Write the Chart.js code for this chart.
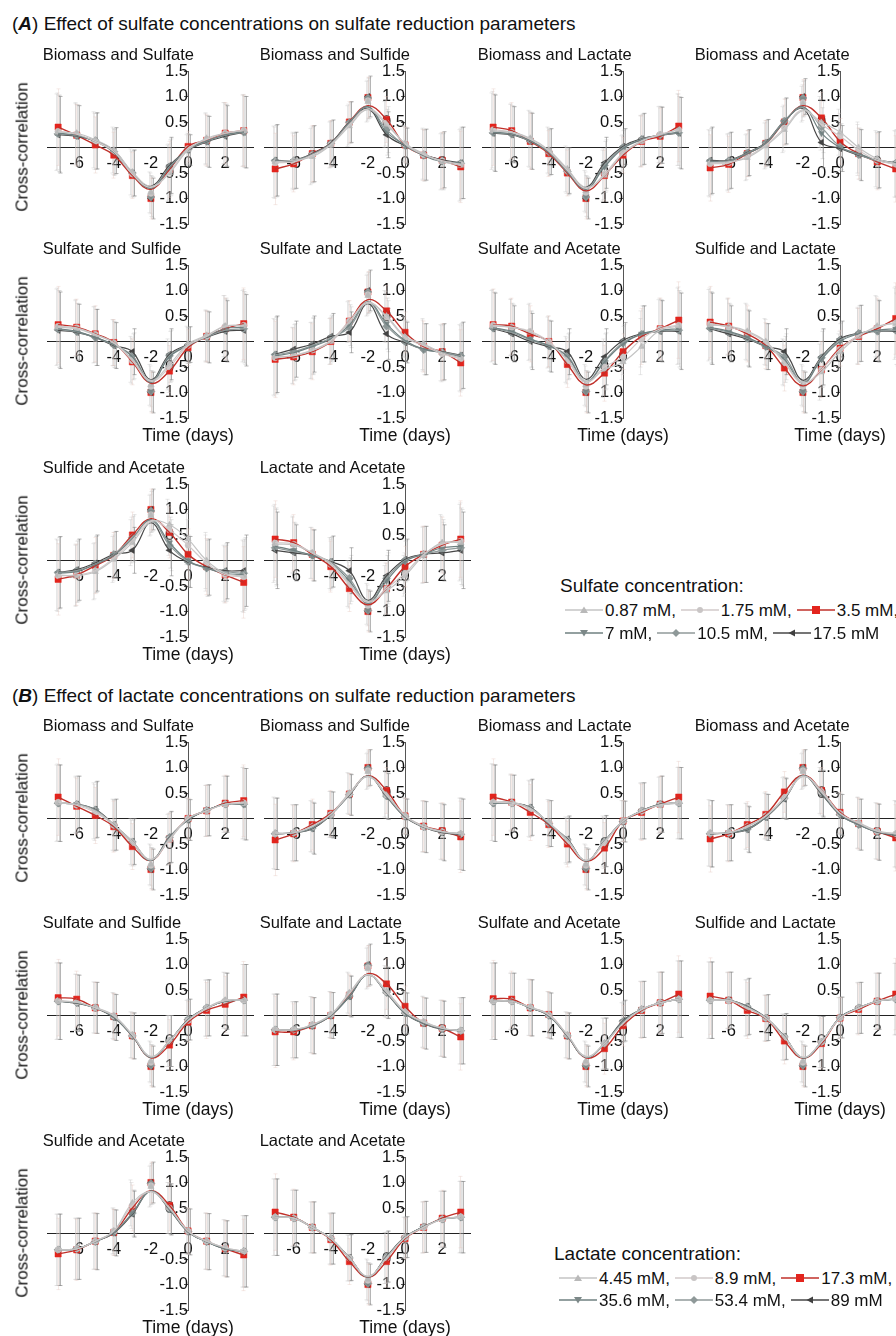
<!DOCTYPE html>
<html>
<head>
<meta charset="utf-8">
<script src="https://cdn.jsdelivr.net/npm/chart.js@4.4.0/dist/chart.umd.min.js"></script>
<style>
  body { margin: 0; background: #fff; }
  #page { position: relative; width: 896px; height: 1336px; overflow: hidden; font-family: 'Liberation Sans', Arial, sans-serif; color: #111; }
  #page canvas { position: absolute; }
  .txt { position: absolute; white-space: nowrap; line-height: 1; }
  .legrow { position: absolute; white-space: nowrap; line-height: 1; font-size: 17px; display: flex; align-items: center; }
  .legrow svg { margin-right: 2px; }
  .legrow span { margin-right: 5px; }
</style>
</head>
<body>
<div id="page"></div>
<script>
/* data */
var days = [-7, -6, -5, -4, -3, -2, -1, 0, 1, 2, 3];
var xTicks = [-6, -4, -2, 0, 2];
var yTicks = [-1.5, -1, -0.5, 0.5, 1, 1.5];
var panelTitles = ['Biomass and Sulfate', 'Biomass and Sulfide', 'Biomass and Lactate', 'Biomass and Acetate',
  'Sulfate and Sulfide', 'Sulfate and Lactate', 'Sulfate and Acetate', 'Sulfide and Lactate',
  'Sulfide and Acetate', 'Lactate and Acetate'];
var sulfateConc = ['0.87 mM,', '1.75 mM,', '3.5 mM,', '7 mM,', '10.5 mM,', '17.5 mM'];
var lactateConc = ['4.45 mM,', '8.9 mM,', '17.3 mM,', '35.6 mM,', '53.4 mM,', '89 mM'];

// (A) sulfate concentrations: rows are 0.87, 1.75, 3.5, 7, 10.5, 17.5 mM
var A_biomassSulfate = [
  [0.30, 0.28, 0.15, -0.05, -0.48, -0.88, -0.50, -0.05, 0.18, 0.28, 0.33],
  [0.32, 0.26, 0.12, -0.08, -0.52, -0.90, -0.48, -0.02, 0.16, 0.28, 0.34],
  [0.40, 0.24, 0.05, -0.15, -0.55, -1.00, -0.43, 0.02, 0.14, 0.28, 0.33],
  [0.28, 0.24, 0.12, -0.10, -0.52, -0.95, -0.40, -0.03, 0.13, 0.25, 0.31],
  [0.27, 0.23, 0.13, -0.08, -0.50, -0.97, -0.38, -0.04, 0.12, 0.24, 0.30],
  [0.25, 0.22, 0.13, -0.06, -0.50, -1.00, -0.35, -0.05, 0.11, 0.22, 0.30]];
var A_biomassSulfide = [
  [-0.28, -0.25, -0.18, 0.05, 0.42, 0.90, 0.45, 0.08, -0.12, -0.28, -0.35],
  [-0.30, -0.28, -0.15, 0.06, 0.45, 0.92, 0.48, 0.07, -0.14, -0.26, -0.33],
  [-0.42, -0.32, -0.12, 0.08, 0.50, 0.98, 0.55, 0.05, -0.15, -0.25, -0.38],
  [-0.27, -0.27, -0.14, 0.07, 0.48, 0.96, 0.30, 0.05, -0.16, -0.28, -0.30],
  [-0.26, -0.26, -0.13, 0.08, 0.49, 0.97, 0.35, 0.04, -0.15, -0.26, -0.31],
  [-0.25, -0.25, -0.12, 0.09, 0.50, 1.00, 0.25, 0.03, -0.14, -0.24, -0.30]];
var A_biomassLactate = [
  [0.32, 0.30, 0.18, -0.05, -0.42, -0.85, -0.55, -0.12, 0.12, 0.25, 0.35],
  [0.35, 0.30, 0.16, -0.07, -0.45, -0.88, -0.52, -0.10, 0.13, 0.26, 0.35],
  [0.40, 0.33, 0.12, -0.12, -0.50, -1.00, -0.55, -0.15, 0.12, 0.22, 0.42],
  [0.30, 0.27, 0.14, -0.10, -0.48, -0.95, -0.38, -0.02, 0.15, 0.25, 0.30],
  [0.29, 0.26, 0.13, -0.09, -0.47, -0.97, -0.35, 0.00, 0.16, 0.24, 0.29],
  [0.28, 0.25, 0.12, -0.08, -0.45, -1.00, -0.30, 0.02, 0.17, 0.24, 0.28]];
var A_biomassAcetate = [
  [-0.30, -0.28, -0.20, 0.03, 0.35, 0.85, 0.50, 0.30, 0.00, -0.22, -0.32],
  [-0.32, -0.30, -0.18, 0.05, 0.38, 0.88, 0.45, 0.22, -0.05, -0.25, -0.33],
  [-0.40, -0.33, -0.12, 0.08, 0.50, 0.98, 0.58, 0.12, -0.12, -0.28, -0.42],
  [-0.28, -0.27, -0.12, 0.08, 0.50, 0.95, 0.28, 0.00, -0.12, -0.25, -0.30],
  [-0.27, -0.26, -0.11, 0.09, 0.52, 0.97, 0.40, 0.02, -0.14, -0.26, -0.31],
  [-0.25, -0.25, -0.10, 0.10, 0.52, 1.00, 0.10, -0.02, -0.15, -0.24, -0.30]];
var A_sulfateSulfide = [
  [0.28, 0.25, 0.13, -0.02, -0.35, -0.85, -0.45, -0.05, 0.12, 0.30, 0.30],
  [0.30, 0.27, 0.14, -0.03, -0.38, -0.88, -0.50, -0.08, 0.10, 0.30, 0.32],
  [0.33, 0.28, 0.15, -0.02, -0.40, -1.00, -0.58, -0.12, 0.10, 0.25, 0.35],
  [0.25, 0.20, 0.08, -0.06, -0.30, -0.97, -0.30, -0.08, 0.10, 0.25, 0.28],
  [0.24, 0.19, 0.08, -0.07, -0.28, -0.98, -0.28, -0.07, 0.09, 0.22, 0.25],
  [0.22, 0.18, 0.08, -0.08, -0.20, -1.00, -0.25, -0.06, 0.08, 0.20, 0.22]];
var A_sulfateLactate = [
  [-0.30, -0.28, -0.18, 0.00, 0.38, 0.90, 0.50, 0.10, -0.05, -0.22, -0.32],
  [-0.32, -0.27, -0.17, 0.02, 0.40, 0.92, 0.48, 0.08, -0.08, -0.24, -0.34],
  [-0.35, -0.30, -0.20, 0.00, 0.40, 0.97, 0.60, 0.18, -0.10, -0.20, -0.42],
  [-0.28, -0.22, -0.10, 0.05, 0.32, 0.95, 0.35, 0.02, -0.15, -0.22, -0.30],
  [-0.26, -0.20, -0.08, 0.07, 0.28, 0.97, 0.30, 0.00, -0.16, -0.21, -0.28],
  [-0.25, -0.15, -0.05, 0.10, 0.18, 1.00, 0.15, -0.02, -0.15, -0.20, -0.27]];
var A_sulfateAcetate = [
  [0.30, 0.28, 0.18, -0.02, -0.35, -0.85, -0.55, -0.40, -0.10, 0.22, 0.30],
  [0.32, 0.28, 0.20, 0.00, -0.38, -0.88, -0.50, -0.30, 0.05, 0.25, 0.32],
  [0.33, 0.30, 0.15, 0.00, -0.45, -1.00, -0.62, -0.20, 0.10, 0.25, 0.42],
  [0.27, 0.20, 0.05, -0.08, -0.30, -0.97, -0.40, -0.05, 0.15, 0.22, 0.25],
  [0.26, 0.18, 0.03, -0.09, -0.28, -0.98, -0.38, -0.02, 0.14, 0.21, 0.22],
  [0.25, 0.15, 0.00, -0.10, -0.20, -1.00, -0.30, 0.02, 0.15, 0.20, 0.20]];
var A_sulfideLactate = [
  [0.32, 0.30, 0.20, 0.00, -0.40, -0.85, -0.60, -0.20, 0.10, 0.30, 0.35],
  [0.35, 0.28, 0.18, -0.02, -0.42, -0.88, -0.55, -0.15, 0.12, 0.28, 0.38],
  [0.38, 0.30, 0.15, -0.08, -0.52, -1.00, -0.55, -0.13, 0.10, 0.25, 0.45],
  [0.28, 0.20, 0.08, -0.10, -0.35, -0.97, -0.35, 0.00, 0.15, 0.22, 0.25],
  [0.26, 0.18, 0.06, -0.10, -0.30, -0.98, -0.32, 0.03, 0.16, 0.20, 0.22],
  [0.25, 0.15, 0.05, -0.10, -0.20, -1.00, -0.30, 0.05, 0.16, 0.20, 0.20]];
var A_sulfideAcetate = [
  [-0.28, -0.30, -0.22, 0.02, 0.35, 0.88, 0.70, 0.42, 0.00, -0.25, -0.30],
  [-0.30, -0.28, -0.20, 0.05, 0.40, 0.90, 0.60, 0.30, -0.05, -0.28, -0.32],
  [-0.37, -0.28, -0.10, 0.10, 0.50, 1.00, 0.55, 0.12, -0.12, -0.28, -0.43],
  [-0.25, -0.22, -0.08, 0.10, 0.42, 0.95, 0.35, 0.00, -0.15, -0.25, -0.28],
  [-0.24, -0.20, -0.07, 0.12, 0.45, 0.97, 0.30, -0.02, -0.15, -0.22, -0.25],
  [-0.23, -0.18, -0.05, 0.12, 0.20, 1.00, 0.20, -0.03, -0.13, -0.20, -0.20]];
var A_lactateAcetate = [
  [0.32, 0.30, 0.15, -0.05, -0.45, -0.85, -0.60, -0.30, 0.10, 0.35, 0.35],
  [0.35, 0.32, 0.15, -0.08, -0.48, -0.88, -0.55, -0.25, 0.12, 0.32, 0.38],
  [0.42, 0.35, 0.12, -0.12, -0.55, -1.00, -0.55, -0.12, 0.12, 0.30, 0.42],
  [0.28, 0.20, 0.10, -0.05, -0.40, -0.97, -0.40, -0.02, 0.12, 0.25, 0.28],
  [0.25, 0.18, 0.10, -0.03, -0.35, -0.98, -0.35, 0.00, 0.12, 0.20, 0.25],
  [0.20, 0.15, 0.10, -0.02, -0.20, -1.00, -0.30, 0.02, 0.12, 0.15, 0.20]];

// (B) lactate concentrations: rows are 4.45, 8.9, 17.3, 35.6, 53.4, 89 mM
var B_biomassSulfate = [
  [0.30, 0.28, 0.15, -0.12, -0.45, -0.90, -0.42, 0.00, 0.15, 0.28, 0.30],
  [0.32, 0.26, 0.12, -0.13, -0.48, -0.92, -0.40, 0.00, 0.15, 0.28, 0.31],
  [0.42, 0.24, 0.06, -0.16, -0.55, -1.00, -0.40, 0.00, 0.15, 0.30, 0.35],
  [0.30, 0.28, 0.16, -0.14, -0.48, -0.97, -0.38, -0.02, 0.16, 0.28, 0.28],
  [0.30, 0.28, 0.17, -0.13, -0.46, -0.98, -0.37, -0.02, 0.16, 0.28, 0.28],
  [0.30, 0.28, 0.18, -0.12, -0.45, -1.00, -0.36, -0.03, 0.16, 0.28, 0.28]];
var B_biomassSulfide = [
  [-0.28, -0.28, -0.15, 0.08, 0.50, 0.92, 0.48, 0.06, -0.15, -0.25, -0.30],
  [-0.30, -0.28, -0.16, 0.08, 0.48, 0.94, 0.46, 0.05, -0.16, -0.26, -0.30],
  [-0.42, -0.30, -0.12, 0.10, 0.48, 1.00, 0.55, 0.05, -0.15, -0.24, -0.36],
  [-0.30, -0.28, -0.18, 0.08, 0.48, 0.97, 0.45, 0.04, -0.16, -0.26, -0.30],
  [-0.30, -0.28, -0.19, 0.07, 0.47, 0.98, 0.44, 0.04, -0.16, -0.27, -0.31],
  [-0.30, -0.28, -0.20, 0.07, 0.46, 1.00, 0.43, 0.03, -0.17, -0.28, -0.32]];
var B_biomassLactate = [
  [0.32, 0.32, 0.20, -0.08, -0.42, -0.90, -0.45, -0.05, 0.15, 0.26, 0.30],
  [0.32, 0.30, 0.18, -0.08, -0.45, -0.92, -0.48, -0.05, 0.14, 0.27, 0.31],
  [0.42, 0.32, 0.12, -0.12, -0.50, -1.00, -0.58, -0.05, 0.12, 0.28, 0.42],
  [0.30, 0.30, 0.20, -0.10, -0.42, -0.97, -0.45, -0.05, 0.15, 0.28, 0.30],
  [0.30, 0.30, 0.21, -0.10, -0.42, -0.98, -0.45, -0.06, 0.15, 0.28, 0.30],
  [0.30, 0.30, 0.22, -0.10, -0.40, -1.00, -0.44, -0.06, 0.15, 0.28, 0.30]];
var B_biomassAcetate = [
  [-0.28, -0.28, -0.15, 0.05, 0.40, 0.92, 0.55, 0.10, -0.08, -0.24, -0.30],
  [-0.29, -0.28, -0.16, 0.05, 0.42, 0.94, 0.52, 0.10, -0.09, -0.25, -0.30],
  [-0.40, -0.30, -0.12, 0.08, 0.52, 1.00, 0.55, 0.12, -0.10, -0.25, -0.38],
  [-0.30, -0.28, -0.20, 0.03, 0.40, 0.97, 0.50, 0.08, -0.12, -0.26, -0.32],
  [-0.30, -0.28, -0.21, 0.03, 0.40, 0.98, 0.50, 0.08, -0.12, -0.26, -0.32],
  [-0.30, -0.28, -0.22, 0.02, 0.38, 1.00, 0.48, 0.07, -0.12, -0.27, -0.33]];
var B_sulfateSulfide = [
  [0.28, 0.26, 0.16, 0.00, -0.38, -0.90, -0.50, -0.10, 0.15, 0.30, 0.30],
  [0.29, 0.26, 0.15, -0.01, -0.38, -0.92, -0.50, -0.10, 0.14, 0.29, 0.30],
  [0.35, 0.32, 0.15, -0.02, -0.40, -1.00, -0.58, -0.13, 0.10, 0.22, 0.36],
  [0.28, 0.25, 0.15, -0.03, -0.40, -0.97, -0.50, -0.08, 0.15, 0.28, 0.30],
  [0.28, 0.25, 0.15, -0.03, -0.40, -0.98, -0.50, -0.08, 0.15, 0.28, 0.30],
  [0.28, 0.24, 0.15, -0.04, -0.40, -1.00, -0.50, -0.08, 0.15, 0.28, 0.30]];
var B_sulfateLactate = [
  [-0.28, -0.28, -0.18, 0.02, 0.45, 0.92, 0.48, 0.08, -0.12, -0.25, -0.30],
  [-0.28, -0.28, -0.18, 0.02, 0.43, 0.94, 0.46, 0.07, -0.13, -0.25, -0.30],
  [-0.32, -0.32, -0.20, 0.00, 0.40, 0.97, 0.62, 0.18, -0.15, -0.25, -0.42],
  [-0.28, -0.28, -0.20, 0.00, 0.38, 0.97, 0.45, 0.05, -0.15, -0.26, -0.30],
  [-0.28, -0.28, -0.20, 0.00, 0.38, 0.98, 0.45, 0.05, -0.15, -0.26, -0.30],
  [-0.28, -0.28, -0.20, 0.00, 0.37, 1.00, 0.44, 0.04, -0.16, -0.27, -0.30]];
var B_sulfateAcetate = [
  [0.28, 0.28, 0.16, 0.02, -0.38, -0.90, -0.55, -0.15, 0.12, 0.25, 0.32],
  [0.28, 0.28, 0.16, 0.01, -0.38, -0.92, -0.55, -0.15, 0.12, 0.25, 0.32],
  [0.33, 0.32, 0.15, 0.02, -0.40, -1.00, -0.65, -0.20, 0.10, 0.25, 0.42],
  [0.28, 0.28, 0.15, 0.00, -0.40, -0.97, -0.55, -0.12, 0.12, 0.25, 0.32],
  [0.28, 0.28, 0.15, 0.00, -0.40, -0.98, -0.55, -0.12, 0.12, 0.25, 0.32],
  [0.28, 0.28, 0.15, -0.01, -0.40, -1.00, -0.55, -0.10, 0.12, 0.25, 0.32]];
var B_sulfideLactate = [
  [0.30, 0.30, 0.15, -0.05, -0.42, -0.90, -0.52, -0.05, 0.15, 0.28, 0.32],
  [0.30, 0.29, 0.15, -0.05, -0.43, -0.92, -0.52, -0.05, 0.14, 0.28, 0.33],
  [0.38, 0.30, 0.10, -0.06, -0.50, -1.00, -0.55, -0.05, 0.12, 0.28, 0.42],
  [0.30, 0.30, 0.16, -0.05, -0.42, -0.97, -0.52, -0.04, 0.15, 0.28, 0.32],
  [0.30, 0.30, 0.17, -0.05, -0.42, -0.98, -0.52, -0.04, 0.15, 0.28, 0.32],
  [0.30, 0.30, 0.18, -0.04, -0.41, -1.00, -0.52, -0.04, 0.15, 0.28, 0.32]];
var B_sulfideAcetate = [
  [-0.32, -0.30, -0.15, 0.05, 0.60, 0.92, 0.50, 0.05, -0.15, -0.28, -0.35],
  [-0.32, -0.30, -0.15, 0.05, 0.55, 0.94, 0.50, 0.05, -0.15, -0.28, -0.35],
  [-0.40, -0.32, -0.15, 0.02, 0.50, 1.00, 0.55, 0.05, -0.15, -0.30, -0.42],
  [-0.32, -0.30, -0.15, 0.02, 0.40, 0.97, 0.48, 0.04, -0.16, -0.30, -0.35],
  [-0.32, -0.30, -0.16, 0.02, 0.40, 0.98, 0.48, 0.04, -0.16, -0.30, -0.35],
  [-0.32, -0.30, -0.16, 0.01, 0.38, 1.00, 0.47, 0.03, -0.16, -0.30, -0.35]];
var B_lactateAcetate = [
  [0.32, 0.30, 0.12, -0.10, -0.48, -0.90, -0.48, -0.08, 0.12, 0.28, 0.32],
  [0.32, 0.30, 0.12, -0.10, -0.48, -0.92, -0.48, -0.08, 0.12, 0.28, 0.33],
  [0.42, 0.32, 0.12, -0.12, -0.55, -1.00, -0.55, -0.10, 0.12, 0.30, 0.42],
  [0.32, 0.30, 0.12, -0.10, -0.48, -0.97, -0.47, -0.08, 0.13, 0.28, 0.32],
  [0.32, 0.30, 0.12, -0.10, -0.48, -0.98, -0.46, -0.08, 0.13, 0.28, 0.32],
  [0.32, 0.30, 0.12, -0.10, -0.47, -1.00, -0.45, -0.07, 0.13, 0.28, 0.32]];

// value of each fitted curve at day -2 (curves run through the other points)
var fitPeakA = [
  [-0.76, -0.78, -0.82, -0.80, -0.79, -0.76],
  [0.74, 0.76, 0.82, 0.80, 0.79, 0.76],
  [-0.78, -0.80, -0.85, -0.82, -0.80, -0.78],
  [0.72, 0.74, 0.82, 0.80, 0.78, 0.76],
  [-0.76, -0.78, -0.82, -0.80, -0.78, -0.75],
  [0.75, 0.77, 0.82, 0.78, 0.76, 0.74],
  [-0.78, -0.80, -0.85, -0.80, -0.78, -0.74],
  [-0.80, -0.82, -0.87, -0.82, -0.80, -0.76],
  [0.76, 0.78, 0.82, 0.80, 0.78, 0.74],
  [-0.80, -0.82, -0.87, -0.84, -0.82, -0.78]];
var fitPeakB = [
  [-0.80, -0.81, -0.82, -0.82, -0.82, -0.82],
  [0.82, 0.82, 0.84, 0.83, 0.83, 0.83],
  [-0.82, -0.82, -0.84, -0.83, -0.83, -0.83],
  [0.82, 0.83, 0.85, 0.84, 0.84, 0.84],
  [-0.80, -0.81, -0.83, -0.82, -0.82, -0.82],
  [0.80, 0.80, 0.82, 0.80, 0.80, 0.80],
  [-0.80, -0.81, -0.83, -0.82, -0.82, -0.82],
  [-0.82, -0.82, -0.84, -0.83, -0.83, -0.83],
  [0.82, 0.82, 0.84, 0.83, 0.83, 0.83],
  [-0.84, -0.84, -0.86, -0.85, -0.85, -0.85]];

// error bar half widths, one per day
var errA = [
  [0.75, 0.60, 0.55, 0.45, 0.45, 0.40, 0.55, 0.30, 0.50, 0.60, 0.70],
  [0.70, 0.55, 0.55, 0.45, 0.40, 0.40, 0.45, 0.35, 0.50, 0.55, 0.70],
  [0.75, 0.55, 0.55, 0.45, 0.45, 0.40, 0.50, 0.35, 0.50, 0.55, 0.70],
  [0.65, 0.55, 0.45, 0.45, 0.45, 0.35, 0.50, 0.45, 0.50, 0.55, 0.65],
  [0.75, 0.55, 0.55, 0.45, 0.45, 0.40, 0.50, 0.35, 0.50, 0.60, 0.70],
  [0.75, 0.55, 0.55, 0.45, 0.40, 0.40, 0.50, 0.40, 0.50, 0.55, 0.65],
  [0.70, 0.55, 0.55, 0.50, 0.45, 0.40, 0.55, 0.35, 0.55, 0.60, 0.75],
  [0.70, 0.55, 0.55, 0.45, 0.45, 0.40, 0.55, 0.35, 0.55, 0.60, 0.70],
  [0.70, 0.60, 0.55, 0.45, 0.45, 0.40, 0.50, 0.50, 0.55, 0.55, 0.70],
  [0.75, 0.55, 0.50, 0.50, 0.45, 0.40, 0.50, 0.40, 0.55, 0.55, 0.75]];
var errB = [
  [0.75, 0.55, 0.55, 0.50, 0.45, 0.40, 0.50, 0.40, 0.50, 0.55, 0.70],
  [0.70, 0.55, 0.50, 0.45, 0.40, 0.35, 0.45, 0.35, 0.50, 0.55, 0.70],
  [0.75, 0.55, 0.55, 0.45, 0.45, 0.40, 0.50, 0.40, 0.55, 0.55, 0.70],
  [0.65, 0.55, 0.45, 0.45, 0.40, 0.35, 0.45, 0.40, 0.50, 0.55, 0.65],
  [0.75, 0.55, 0.50, 0.45, 0.45, 0.40, 0.50, 0.40, 0.55, 0.55, 0.70],
  [0.70, 0.55, 0.55, 0.45, 0.40, 0.40, 0.50, 0.40, 0.50, 0.55, 0.65],
  [0.75, 0.55, 0.55, 0.45, 0.45, 0.40, 0.50, 0.40, 0.55, 0.60, 0.75],
  [0.75, 0.55, 0.55, 0.45, 0.45, 0.40, 0.50, 0.40, 0.50, 0.55, 0.70],
  [0.70, 0.60, 0.55, 0.45, 0.45, 0.40, 0.50, 0.45, 0.55, 0.55, 0.70],
  [0.75, 0.55, 0.50, 0.50, 0.45, 0.40, 0.50, 0.40, 0.50, 0.55, 0.70]];

var panelsA = [A_biomassSulfate, A_biomassSulfide, A_biomassLactate, A_biomassAcetate, A_sulfateSulfide,
  A_sulfateLactate, A_sulfateAcetate, A_sulfideLactate, A_sulfideAcetate, A_lactateAcetate];
var panelsB = [B_biomassSulfate, B_biomassSulfide, B_biomassLactate, B_biomassAcetate, B_sulfateSulfide,
  B_sulfateLactate, B_sulfateAcetate, B_sulfideLactate, B_sulfideAcetate, B_lactateAcetate];

/* styles for the six series */
var pointColors = ['#b9b9b9', '#c9c5c5', '#e3241d', '#7c8888', '#8f9999', '#404040'];
var lineColors = ['#c4c4c4', '#d2caca', '#c0302a', '#6f8080', '#909a9a', '#474747'];
var barColors = ['rgba(195,195,195,0.4)', 'rgba(205,200,200,0.4)', 'rgba(225,195,185,0.35)',
  'rgba(180,180,180,0.4)', 'rgba(190,190,190,0.4)', 'rgba(120,120,120,0.55)'];
var shapes = ['triangle', 'circle', 'rect', 'triangle', 'rectRot', 'triangle'];
var rotations = [0, 0, 0, 180, 0, 270];
var radii = [3.6, 3.0, 4.4, 3.6, 4.0, 3.6];
var drawOrder = [0, 1, 3, 4, 5, 2];

var FONT = "'Liberation Sans', Arial, sans-serif";
var COL_X0 = [188, 405, 623, 840];
var ROW_Y0A = [147, 341, 560];
var ROW_Y0B = [818, 1015, 1233];
var X_MIN = -7.6, X_MAX = 3.5, PX_DAY = 18.6, PX_UNIT = 51;
var PAD = { left: 30, right: 10, top: 14, bottom: 14 };

var page = document.getElementById('page');

function addText(html, left, top, size, extra) {
  var d = document.createElement('div');
  d.className = 'txt';
  d.innerHTML = html;
  d.style.left = left + 'px';
  d.style.top = top + 'px';
  d.style.fontSize = size + 'px';
  d.style.transform = extra || 'translateY(-50%)';
  page.appendChild(d);
  return d;
}

var errorBars = {
  id: 'errorBars',
  beforeDatasetsDraw: function (chart, args, opts) {
    var ctx = chart.ctx, x = chart.scales.x, y = chart.scales.y;
    ctx.save();
    ctx.lineWidth = 1;
    chart.data.datasets.forEach(function (ds) {
      if (ds.barColor === undefined) return;
      var dx = (ds.series - 2.5) * 0.8;
      ctx.strokeStyle = ds.barColor;
      ds.data.forEach(function (p, i) {
        var px = Math.round(x.getPixelForValue(p.x) + dx) + 0.5;
        var top = y.getPixelForValue(p.y + opts.err[i]);
        var bot = y.getPixelForValue(p.y - opts.err[i]);
        ctx.beginPath();
        ctx.moveTo(px, top); ctx.lineTo(px, bot);
        ctx.moveTo(px - 2, top); ctx.lineTo(px + 2, top);
        ctx.moveTo(px - 2, bot); ctx.lineTo(px + 2, bot);
        ctx.stroke();
      });
    });
    ctx.restore();
  }
};

function drawPanel(series, peaks, err, title, col, y0, showTime) {
  var x0 = COL_X0[col];
  var areaW = (X_MAX - X_MIN) * PX_DAY;
  var areaH = 3 * PX_UNIT;
  var areaLeft = x0 + X_MIN * PX_DAY;
  var areaTop = y0 - 1.5 * PX_UNIT;

  var cv = document.createElement('canvas');
  cv.width = Math.round(areaW + PAD.left + PAD.right);
  cv.height = Math.round(areaH + PAD.top + PAD.bottom);
  cv.style.left = (areaLeft - PAD.left) + 'px';
  cv.style.top = (areaTop - PAD.top) + 'px';
  page.appendChild(cv);

  var datasets = [];
  // fitted curves first, points on top
  drawOrder.forEach(function (k) {
    datasets.push({
      data: days.map(function (d, i) { return { x: d, y: d === -2 ? peaks[k] : series[k][i] }; }),
      borderColor: lineColors[k],
      borderWidth: k === 2 ? 1.4 : 1.2,
      pointRadius: 0,
      tension: 0.4
    });
  });
  drawOrder.forEach(function (k) {
    datasets.push({
      data: days.map(function (d, i) { return { x: d, y: series[k][i] }; }),
      showLine: false,
      pointBackgroundColor: pointColors[k],
      pointBorderColor: pointColors[k],
      pointBorderWidth: 0.5,
      pointStyle: shapes[k],
      pointRotation: rotations[k],
      pointRadius: radii[k],
      barColor: barColors[k],
      series: k
    });
  });

  new Chart(cv.getContext('2d'), {
    type: 'line',
    data: { datasets: datasets },
    options: {
      responsive: false,
      animation: false,
      events: [],
      layout: { padding: PAD },
      plugins: {
        legend: { display: false },
        tooltip: { enabled: false },
        errorBars: { err: err }
      },
      scales: {
        x: {
          type: 'linear', min: X_MIN, max: X_MAX, position: { y: 0 },
          afterBuildTicks: function (s) { s.ticks = xTicks.map(function (v) { return { value: v }; }); },
          grid: { drawOnChartArea: false, drawTicks: false },
          border: { color: '#222', width: 1 },
          ticks: { color: '#111', padding: 6, autoSkip: false, maxRotation: 0,
            font: { family: FONT, size: 16.5 }, callback: function (v) { return String(v); } }
        },
        y: {
          type: 'linear', min: -1.5, max: 1.5, position: { x: 0 },
          afterBuildTicks: function (s) { s.ticks = yTicks.map(function (v) { return { value: v }; }); },
          grid: { drawOnChartArea: false, drawTicks: true, tickLength: 4, color: '#555' },
          border: { color: '#555', width: 1 },
          ticks: { color: '#111', padding: 1, autoSkip: false,
            font: { family: FONT, size: 16.5 }, callback: function (v) { return v.toFixed(1); } }
        }
      }
    },
    plugins: [errorBars]
  });

  addText(title, areaLeft - 4, y0 - 93, 16.5);
  if (col === 0) addText('Cross-correlation', 22, y0, 17, 'translate(-50%,-50%) rotate(-90deg)');
  if (showTime) addText('Time (days)', x0, y0 + 95, 17.5, 'translate(-50%,-50%)');
}

function symbolSvg(k) {
  var c = pointColors[k], l = lineColors[k];
  var m = '';
  if (k === 0) m = '<polygon points="19,2.5 23,9 15,9" fill="' + c + '"/>';
  if (k === 1) m = '<circle cx="19" cy="6" r="3" fill="' + c + '"/>';
  if (k === 2) m = '<rect x="15" y="2" width="8" height="8" fill="' + c + '"/>';
  if (k === 3) m = '<polygon points="15,3 23,3 19,9.5" fill="' + c + '"/>';
  if (k === 4) m = '<polygon points="19,2 23,6 19,10 15,6" fill="' + c + '"/>';
  if (k === 5) m = '<polygon points="15.5,6 22,2.5 22,9.5" fill="' + c + '"/>';
  return '<svg width="38" height="12"><line x1="0" y1="6" x2="38" y2="6" stroke="' + l + '" stroke-width="1.3"/>' + m + '</svg>';
}

function drawLegend(titleText, conc, left, yTitle, y1, y2) {
  addText(titleText, left, yTitle, 19);
  [[0, 1, 2], [3, 4, 5]].forEach(function (row, r) {
    var d = document.createElement('div');
    d.className = 'legrow';
    d.style.left = (left + 5) + 'px';
    d.style.top = ((r === 0 ? y1 : y2) - 8) + 'px';
    d.style.height = '16px';
    d.innerHTML = row.map(function (k) { return symbolSvg(k) + '<span>' + conc[k] + '</span>'; }).join('');
    page.appendChild(d);
  });
}

function drawSection(letter, headText, panels, peaks, errs, rowsY0, headY) {
  addText('(<b><i>' + letter + '</i></b>) ' + headText, 12, headY, 19);
  panels.forEach(function (series, i) {
    var row = Math.floor(i / 4), col = i % 4;
    drawPanel(series, peaks[i], errs[i], panelTitles[i], col, rowsY0[row], row > 0);
  });
}

drawSection('A', 'Effect of sulfate concentrations on sulfate reduction parameters', panelsA, fitPeakA, errA, ROW_Y0A, 23);
drawSection('B', 'Effect of lactate concentrations on sulfate reduction parameters', panelsB, fitPeakB, errB, ROW_Y0B, 695);
drawLegend('Sulfate concentration:', sulfateConc, 560, 585, 610, 633);
drawLegend('Lactate concentration:', lactateConc, 554, 1253, 1278, 1300);
</script>
</body>
</html>
